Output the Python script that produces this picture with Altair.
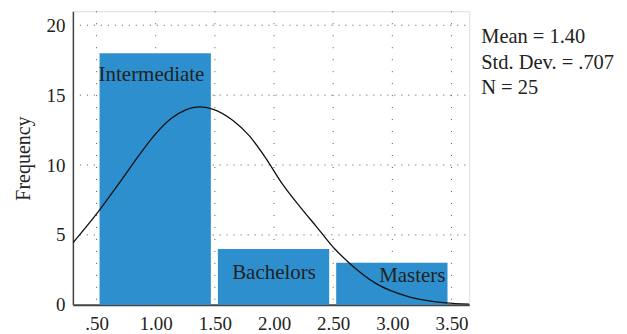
import altair as alt
import pandas as pd

# Histogram bars
categories = ["Intermediate", "Bachelors", "Masters"]
bin_start = [0.5, 1.5, 2.5]
bin_end = [1.5, 2.5, 3.5]
counts = [18, 4, 3]

# Normal curve
curve_x = [0.30, 0.51, 0.71, 0.88, 0.99, 1.13, 1.25, 1.37, 1.48, 1.65, 1.79, 1.93,
           2.07, 2.22, 2.36, 2.51, 2.64, 2.86, 3.14, 3.45, 3.65]
curve_y = [4.43, 6.61, 8.92, 10.94, 12.14, 13.33, 13.93, 14.16, 14.0, 13.2, 12.1, 10.5,
           8.65, 7.01, 5.58, 4.03, 2.96, 1.53, 0.57, 0.14, 0.05]

# Axis ticks
x_ticks = [0.5, 1.0, 1.5, 2.0, 2.5, 3.0, 3.5]
x_tick_labels = [".50", "1.00", "1.50", "2.00", "2.50", "3.00", "3.50"]
y_ticks = [0, 5, 10, 15, 20]

stats_lines = ["Mean = 1.40", "Std. Dev. = .707", "N = 25"]

FONT = "Liberation Serif"
W, H = 397, 294

bars_df = pd.DataFrame({"cat": categories, "x": bin_start, "x2": bin_end, "n": counts})
curve_df = pd.DataFrame({"x": curve_x, "y": curve_y})

label_expr = " : ".join(
    f"datum.value == {v} ? '{l}'" for v, l in zip(x_ticks, x_tick_labels)
) + " : ''"

xscale = alt.Scale(domain=[0.3, 3.65], nice=False, zero=False)
yscale = alt.Scale(domain=[0, 21], nice=False)

# grid layers
xgrid = alt.Chart(pd.DataFrame({"v": x_ticks})).mark_rule(
    color="#555", strokeDash=[1, 11], strokeWidth=1
).encode(x=alt.X("v:Q", scale=xscale), y=alt.value(0), y2=alt.value(H))

ygrid = alt.Chart(pd.DataFrame({"v": y_ticks[1:]})).mark_rule(
    color="#555", strokeDash=[1, 6], strokeWidth=1
).encode(y=alt.Y("v:Q", scale=yscale), x=alt.value(0), x2=alt.value(W))

bars = alt.Chart(bars_df).mark_bar(color="#2E8FCE", xOffset=3, x2Offset=-4).encode(
    x=alt.X(
        "x:Q",
        scale=xscale,
        axis=alt.Axis(
            values=x_ticks, labelExpr=label_expr, title=None, grid=False,
            ticks=False, labelPadding=10, domainColor="#444", domainWidth=2,
            labelFont=FONT, labelFontSize=19, labelColor="#222",
        ),
    ),
    x2="x2:Q",
    y=alt.Y(
        "n:Q",
        scale=yscale,
        axis=alt.Axis(
            values=y_ticks, title="Frequency", grid=False, ticks=False,
            labelPadding=8, domainColor="#444", domainWidth=1.5,
            labelFont=FONT, labelFontSize=19, labelColor="#222",
            titleFont=FONT, titleFontSize=20, titleFontWeight="normal",
            titleColor="#222", titlePadding=12,
        ),
    ),
    y2=alt.datum(0),
)

label_styles = [
    dict(align="left", dx=2, dy=28),
    dict(align="center", dx=0, dy=30),
    dict(align="right", dx=-6, dy=19),
]
label_layers = []
for i, st in enumerate(label_styles):
    d = bars_df.iloc[[i]].copy()
    if st["align"] == "left":
        d["lx"] = d["x"]
    elif st["align"] == "right":
        d["lx"] = d["x2"]
    else:
        d["lx"] = (d["x"] + d["x2"]) / 2
    label_layers.append(
        alt.Chart(d).mark_text(
            font=FONT, fontSize=21, color="#222", baseline="alphabetic",
            align=st["align"], dx=st["dx"], dy=st["dy"],
        ).encode(x=alt.X("lx:Q", scale=xscale), y=alt.Y("n:Q", scale=yscale), text="cat:N")
    )

curve = alt.Chart(curve_df).mark_line(
    color="#111", strokeWidth=1.3, interpolate="monotone", clip=True
).encode(x=alt.X("x:Q", scale=xscale), y=alt.Y("y:Q", scale=yscale))

stats_df = pd.DataFrame({"t": stats_lines, "i": list(range(len(stats_lines)))})
stats = alt.Chart(stats_df).transform_calculate(
    py="32 + datum.i * 25.5"
).mark_text(
    font=FONT, fontSize=20.5, color="#222", align="left", baseline="alphabetic"
).encode(x=alt.value(W + 12), y=alt.Y("py:Q", scale=None), text="t:N")

chart = alt.layer(xgrid, ygrid, bars, *label_layers, curve, stats).properties(
    width=W, height=H,
    autosize=alt.AutoSizeParams(type="none"),
    padding={"left": 65, "top": 3, "right": 150, "bottom": 32},
).configure_view(stroke=None).configure(background="white")

chart.save("out.html", embed_options={"renderer": "svg", "actions": False})
